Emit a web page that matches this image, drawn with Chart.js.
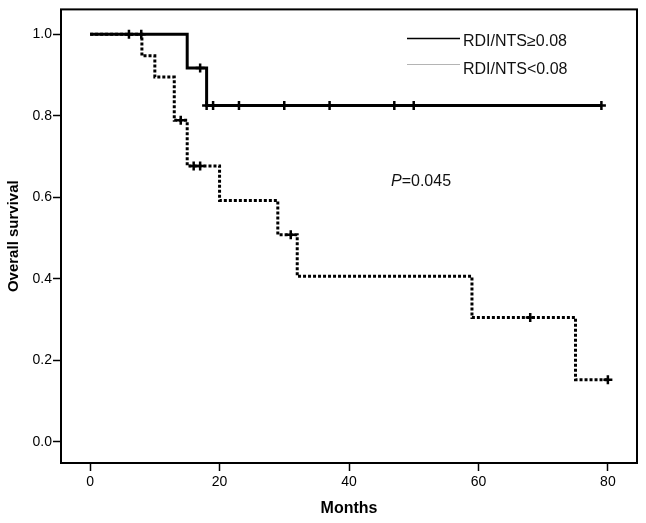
<!DOCTYPE html>
<html lang="en">
<head>
    <meta charset="UTF-8">
    <title>Overall survival</title>
    <script src="https://cdn.jsdelivr.net/npm/chart.js"></script>
    <style>
        body {
            margin: 0;
            background: #fff;
        }
        #wrap {
            width: 646px;
            height: 523px;
        }
    </style>
</head>
<body>
    <div id="wrap">
        <canvas id="kmChart" width="646" height="523"></canvas>
    </div>

    <script>
        // Kaplan-Meier steps
        const highTimes = [0, 15, 18, 79];
        const highSurv = [1, 0.917, 0.825, 0.825];
        const highCensored = [6, 17, 18, 19, 23, 30, 37, 47, 50, 79];

        const lowTimes = [0, 8, 10, 13, 15, 20, 29, 32, 59, 75, 80];
        const lowSurv = [1, 0.947, 0.895, 0.789, 0.677, 0.592, 0.508, 0.406, 0.305, 0.152, 0.152];
        const lowCensored = [7.9, 14, 16, 17, 31, 68, 80];

        const xTickValues = [0, 20, 40, 60, 80];
        const yTickValues = [0, 0.2, 0.4, 0.6, 0.8, 1.0];

        const legendLabels = ['RDI/NTS\u22650.08', 'RDI/NTS<0.08'];
        const pLabel = '0.045';

        const FONT = "Arial, 'Liberation Sans', sans-serif";

        function survAt(times, surv, t) {
            let s = surv[0];
            for (let i = 0; i < times.length; i++) {
                if (times[i] <= t) s = surv[i];
            }
            return s;
        }

        function toPoints(times, surv) {
            return times.map((t, i) => ({x: t, y: surv[i]}));
        }

        function censorPoints(cens, times, surv) {
            return cens.map(t => ({x: t, y: survAt(times, surv, t)}));
        }

        // frame, legend and p-value drawn on top
        const extras = {
            id: 'extras',
            afterDraw(chart) {
                const ctx = chart.ctx;
                const a = chart.chartArea;
                ctx.save();
                ctx.strokeStyle = '#000';
                ctx.lineWidth = 2;
                ctx.strokeRect(a.left, a.top, a.right - a.left, a.bottom - a.top);

                // legend
                ctx.lineWidth = 1.5;
                ctx.strokeStyle = '#000';
                ctx.beginPath();
                ctx.moveTo(407, 38.5);
                ctx.lineTo(460, 38.5);
                ctx.stroke();
                ctx.lineWidth = 1;
                ctx.strokeStyle = '#b4b4b4';
                ctx.beginPath();
                ctx.moveTo(407, 64.5);
                ctx.lineTo(460, 64.5);
                ctx.stroke();

                ctx.fillStyle = '#111';
                ctx.font = '16px ' + FONT;
                ctx.textBaseline = 'middle';
                ctx.textAlign = 'left';
                ctx.fillText(legendLabels[0], 463, 42);
                ctx.fillText(legendLabels[1], 463, 70);

                // p-value
                ctx.font = 'italic 16px ' + FONT;
                ctx.fillText('P', 391, 182);
                const w = ctx.measureText('P').width;
                ctx.font = '16px ' + FONT;
                ctx.fillText('=' + pLabel, 391 + w, 182);
                ctx.restore();
            }
        };

        const ctx = document.getElementById('kmChart').getContext('2d');
        new Chart(ctx, {
            type: 'line',
            data: {
                datasets: [
                    {
                        label: legendLabels[0],
                        data: toPoints(highTimes, highSurv),
                        stepped: true,
                        borderColor: '#000',
                        borderWidth: 3,
                        pointRadius: 0,
                        fill: false
                    },
                    {
                        label: legendLabels[1],
                        data: toPoints(lowTimes, lowSurv),
                        stepped: true,
                        borderColor: '#000',
                        borderWidth: 3,
                        borderDash: [3, 2],
                        borderCapStyle: 'butt',
                        pointRadius: 0,
                        fill: false
                    },
                    {
                        type: 'scatter',
                        label: 'censored high',
                        data: censorPoints(highCensored, highTimes, highSurv),
                        pointStyle: 'cross',
                        pointRadius: 4.5,
                        borderColor: '#000',
                        borderWidth: 2.5,
                        showLine: false
                    },
                    {
                        type: 'scatter',
                        label: 'censored low',
                        data: censorPoints(lowCensored, lowTimes, lowSurv),
                        pointStyle: 'cross',
                        pointRadius: 4.5,
                        borderColor: '#000',
                        borderWidth: 2.5,
                        showLine: false
                    }
                ]
            },
            options: {
                responsive: false,
                animation: false,
                layout: {
                    padding: {top: 8, right: 9, left: 0, bottom: 0}
                },
                plugins: {
                    legend: {display: false},
                    tooltip: {enabled: false}
                },
                scales: {
                    x: {
                        type: 'linear',
                        min: -4.5,
                        max: 84.5,
                        afterBuildTicks: (scale) => {
                            scale.ticks = xTickValues.map(v => ({value: v}));
                        },
                        afterFit: (scale) => {
                            scale.height = 60;
                        },
                        ticks: {
                            color: '#000',
                            padding: 3,
                            maxRotation: 0,
                            font: {family: FONT, size: 14}
                        },
                        grid: {
                            display: true,
                            drawOnChartArea: false,
                            drawTicks: true,
                            tickLength: 8,
                            tickWidth: 1.5,
                            tickColor: '#000'
                        },
                        border: {display: false},
                        title: {
                            display: true,
                            text: 'Months',
                            color: '#000',
                            font: {family: FONT, size: 16, weight: 'bold'},
                            padding: {top: 0, bottom: 5}
                        }
                    },
                    y: {
                        type: 'linear',
                        min: -0.052,
                        max: 1.061,
                        afterBuildTicks: (scale) => {
                            scale.ticks = yTickValues.map(v => ({value: v}));
                        },
                        afterFit: (scale) => {
                            scale.width = 61;
                        },
                        ticks: {
                            color: '#000',
                            padding: 1,
                            font: {family: FONT, size: 14},
                            callback: (v) => Number(v).toFixed(1)
                        },
                        grid: {
                            display: true,
                            drawOnChartArea: false,
                            drawTicks: true,
                            tickLength: 8,
                            tickWidth: 1.5,
                            tickColor: '#000'
                        },
                        border: {display: false},
                        title: {
                            display: true,
                            text: 'Overall survival',
                            color: '#000',
                            font: {family: FONT, size: 15, weight: 'bold'},
                            padding: {top: 5, bottom: 0}
                        }
                    }
                }
            },
            plugins: [extras]
        });
    </script>
</body>
</html>
